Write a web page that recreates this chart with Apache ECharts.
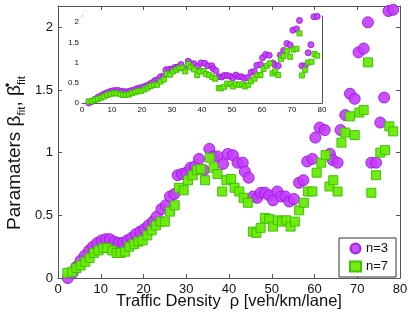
<!DOCTYPE html>
<html><head><meta charset="utf-8">
<script src="https://cdn.jsdelivr.net/npm/echarts@6/dist/echarts.min.js"></script>
<style>html,body{margin:0;padding:0;background:#fff}#c{width:409px;height:315px}</style>
</head><body><div id="c"></div>
<script>
var rho3 = [2.3,3.4,4.3,5.3,6.3,7.3,8.2,9.2,10.2,11.2,12.1,13.2,14.2,15.2,16.2,17.2,18.2,19.2,20.2,21.2,22.2,23.1,24.2,25.2,26.2,27.2,28.0,29.0,30.0,31.0,32.0,33.0,34.1,35.4,36.3,37.3,38.6,39.7,40.9,42.0,43.2,43.7,44.6,45.6,46.6,47.4,48.4,49.4,50.3,51.3,52.2,53.2,54.1,55.2,56.4,57.4,58.3,59.5,60.2,61.2,62.4,63.6,64.3,65.4,66.1,67.2,68.3,69.4,70.3,71.5,72.5,73.3,74.4,75.4,76.3,77.3,78.4];
var beta3 = [0.00,0.04,0.09,0.14,0.18,0.22,0.25,0.28,0.30,0.31,0.31,0.29,0.28,0.28,0.30,0.32,0.35,0.37,0.39,0.42,0.45,0.49,0.55,0.58,0.65,0.67,0.82,0.83,0.84,0.88,0.89,0.95,0.86,1.03,0.97,0.97,0.91,0.99,0.98,0.92,0.92,0.85,0.80,0.65,0.64,0.68,0.68,0.66,0.62,0.69,0.65,0.65,0.61,0.63,0.76,0.78,0.93,0.95,1.12,1.20,1.18,0.99,0.94,0.92,1.18,1.30,1.47,1.43,1.80,1.83,2.04,0.92,0.92,1.24,1.44,2.13,2.14];
var rho7 = [2.2,3.3,4.3,5.3,6.4,7.4,8.4,9.5,10.6,11.5,12.7,13.7,14.6,15.7,16.7,17.8,18.8,19.8,20.9,21.9,22.9,24.0,25.0,26.2,27.3,28.3,29.4,30.4,31.5,32.5,33.4,34.4,35.5,36.4,37.3,38.4,39.4,40.5,41.3,42.4,43.4,44.4,45.6,46.4,47.4,48.4,49.4,50.3,51.4,52.4,53.4,54.4,55.4,56.4,57.5,58.5,59.5,60.5,61.6,62.6,63.5,64.4,65.4,66.3,67.2,68.3,69.4,70.5,71.5,72.5,73.3,74.4,75.4,76.5,77.5,78.4];
var beta7 = [0.04,0.05,0.08,0.10,0.13,0.16,0.20,0.22,0.24,0.24,0.22,0.20,0.20,0.21,0.25,0.27,0.29,0.30,0.34,0.38,0.42,0.45,0.45,0.53,0.58,0.72,0.70,0.78,0.82,0.86,0.87,0.78,0.96,0.88,0.83,0.69,0.78,0.79,0.72,0.69,0.64,0.60,0.37,0.36,0.40,0.48,0.47,0.41,0.46,0.45,0.46,0.41,0.45,0.54,0.60,0.69,0.69,0.84,0.92,0.98,0.73,0.78,0.69,1.08,1.16,1.29,1.14,1.32,1.34,1.72,0.68,0.82,1.00,1.02,1.21,1.17];
var xTicks = [0,10,20,30,40,50,60,70,80];
var yTicks = [0,0.5,1,1.5,2];

function pairs(a,b){return a.map(function(v,i){return [v,b[i]];});}
var FONT = 'Liberation Sans';
var AX = '#555';
var purple = {color:'#c43cff', borderColor:'#9a18d8', borderWidth:1, opacity:0.9};
var green = {color:'#6aec06', borderColor:'#3cbf00', borderWidth:1, opacity:0.95};

function xAx(grid, pos, show, fs){
  return {type:'value', gridIndex:grid, position:pos, min:0, max:80, interval:10,
    nameMoveOverlap:false,
    axisLine:{show:true, onZero:false, lineStyle:{color:AX, width:1}},
    axisTick:{show:true, inside:true, length:grid?3:4, lineStyle:{color:AX}},
    axisLabel:{show:show, color:'#111', fontFamily:FONT, fontSize:fs, margin:fs>10?5:3,
      formatter:function(v){return xTicks.indexOf(v)>=0?String(v):'';}},
    splitLine:{show:false}};
}
function yAx(grid, pos, show, fs, ymax){
  return {type:'value', gridIndex:grid, position:pos, min:0, max:ymax, interval:0.5,
    nameMoveOverlap:false,
    axisLine:{show:true, onZero:false, lineStyle:{color:AX, width:1}},
    axisTick:{show:true, inside:true, length:grid?3:4, lineStyle:{color:AX},
      customValues: yTicks},
    axisLabel:{show:show, color:'#111', fontFamily:FONT, fontSize:fs, margin:fs>10?5:3,
      customValues: yTicks,
      formatter:function(v){return yTicks.indexOf(v)>=0?String(v):'';}},
    splitLine:{show:false}};
}

var xs = [xAx(0,'bottom',true,13), xAx(0,'top',false,13), xAx(1,'bottom',true,8), xAx(1,'top',false,8)];
xs[0].name = 'Traffic Density  \u03c1 [veh/km/lane]';
xs[0].nameLocation = 'middle';
xs[0].nameGap = 15;
xs[0].nameTextStyle = {fontFamily:FONT, fontSize:16.5, color:'#111'};
var ys = [yAx(0,'left',true,13,2.17), yAx(0,'right',false,13,2.17), yAx(1,'left',true,8,2.15), yAx(1,'right',false,8,2.15)];
ys[0].name = 'Paramaters \u03b2{sub|fit}, \u03b2{sup|\u2022}{sub2|fit}';
ys[0].nameLocation = 'middle';
ys[0].nameRotate = 90;
ys[0].nameGap = 30;
ys[0].nameTextStyle = {fontFamily:FONT, fontSize:19, color:'#111', lineHeight:26,
  padding:[0,22,0,0],
  rich:{
    sub:{fontFamily:FONT, fontSize:11.5, color:'#111', verticalAlign:'bottom', padding:[9,0,0,0]},
    sup:{fontFamily:FONT, fontSize:13, color:'#111', verticalAlign:'top', padding:[0,0,11,0], width:0},
    sub2:{fontFamily:FONT, fontSize:11.5, color:'#111', verticalAlign:'bottom', padding:[9,0,0,0]}
  }};

var chart = echarts.init(document.getElementById('c'), null, {renderer:'canvas'});
chart.setOption({
  animation:false,
  backgroundColor:'#fff',
  grid:[
    {left:58, right:9, top:6, bottom:37, show:false, containLabel:false, outerBoundsMode:'none'},
    {left:82, right:87, top:16, bottom:212, show:true, backgroundColor:'#fff', borderWidth:0, z:5, containLabel:false, outerBoundsMode:'none'}
  ],
  xAxis:xs, yAxis:ys,
  legend:{
    left:339, top:238, orient:'vertical', itemGap:5, itemWidth:11, itemHeight:10,
    padding:[4,8,4,10], backgroundColor:'#fff', borderColor:'#333', borderWidth:1,
    textStyle:{fontFamily:FONT, fontSize:13, color:'#111'},
    data:[{name:'n=3', icon:'circle'},{name:'n=7', icon:'rect'}]
  },
  series:[
    {name:'n=3', type:'scatter', xAxisIndex:0, yAxisIndex:0, symbol:'circle', symbolSize:11, itemStyle:purple, data:pairs(rho3,beta3), z:2},
    {name:'n=7', type:'scatter', xAxisIndex:0, yAxisIndex:0, symbol:'rect', symbolSize:9, itemStyle:green, data:pairs(rho7,beta7), z:3},
    {name:'n=3', type:'scatter', xAxisIndex:2, yAxisIndex:2, symbol:'circle', symbolSize:6, itemStyle:purple, data:pairs(rho3,beta3), z:6},
    {name:'n=7', type:'scatter', xAxisIndex:2, yAxisIndex:2, symbol:'rect', symbolSize:5, itemStyle:green, data:pairs(rho7,beta7), z:7}
  ]
});
</script></body></html>
